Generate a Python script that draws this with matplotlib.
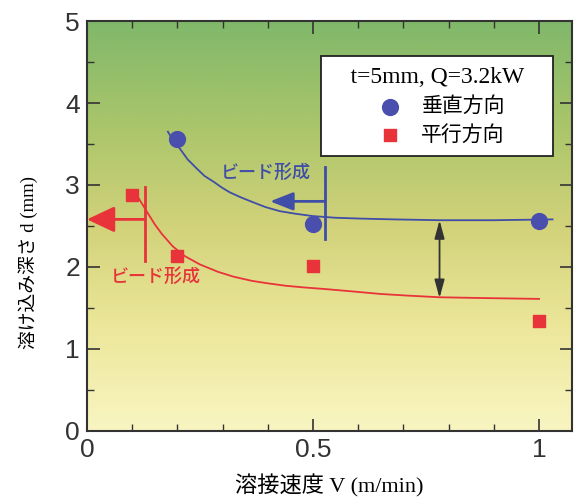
import numpy as np
import matplotlib.pyplot as plt
from matplotlib.colors import LinearSegmentedColormap

plt.rcParams['font.family'] = ['Liberation Sans', 'Noto Sans CJK JP', 'DejaVu Sans']

# measured points
v_perp = [0.2, 0.5, 1.0]
d_perp = [3.56, 2.52, 2.56]
v_para = [0.1, 0.2, 0.5, 1.0]
d_para = [2.88, 2.13, 2.01, 1.34]

# trend curves
curve_perp_v = [0.179, 0.19, 0.206, 0.223, 0.243, 0.26, 0.28, 0.298, 0.316, 0.34,
                0.367, 0.395, 0.427, 0.46, 0.5, 0.55, 0.604, 0.68, 0.78, 0.9, 1.03]
curve_perp_d = [3.65, 3.55, 3.44, 3.31, 3.20, 3.11, 3.04, 2.97, 2.91, 2.85,
                2.79, 2.73, 2.68, 2.65, 2.62, 2.60, 2.59, 2.58, 2.57, 2.57, 2.58]
curve_para_v = [0.113, 0.123, 0.133, 0.15, 0.166, 0.19, 0.217, 0.25, 0.29, 0.325,
                0.365, 0.4, 0.44, 0.48, 0.527, 0.59, 0.65, 0.71, 0.78, 0.88, 1.0]
curve_para_d = [2.85, 2.76, 2.67, 2.52, 2.40, 2.25, 2.13, 2.03, 1.94, 1.88,
                1.83, 1.80, 1.77, 1.75, 1.73, 1.70, 1.67, 1.65, 1.63, 1.62, 1.61]

blue = '#3f4ea6'
red = '#e8333a'

fig = plt.figure(figsize=(5.76, 5.01), dpi=100)
ax = fig.add_axes([0.151, 0.140, 0.842, 0.818])

# green -> yellow background
cmap = LinearSegmentedColormap.from_list('bg', ['#f9f5c2', '#ece79a', '#d2d27a', '#a9c56a', '#80b86a'])
grad = np.linspace(0, 1, 256).reshape(-1, 1)
ax.imshow(grad, cmap=cmap, origin='lower', aspect='auto',
          extent=[0, 1.073, 0, 5], zorder=0)

ax.plot(curve_perp_v, curve_perp_d, color=blue, lw=1.3, zorder=2)
ax.plot(curve_para_v, curve_para_d, color=red, lw=1.3, zorder=2)
ax.scatter(v_perp, d_perp, s=130, color='#4a4fae', zorder=3, label='垂直方向')
ax.scatter(v_para, d_para, s=85, marker='s', color=red, zorder=3, label='平行方向')

# bead formation markers
ax.plot([0.527, 0.527], [2.34, 3.22], color=blue, lw=2, zorder=2)
ax.annotate('', xy=(0.405, 2.80), xytext=(0.527, 2.80),
            arrowprops=dict(arrowstyle='-|>,head_length=1.4,head_width=0.55',
                            color=blue, lw=2, shrinkA=0, shrinkB=0))
ax.text(0.395, 3.15, 'ビード形成', color=blue, fontsize=13, ha='center', va='center',
        family='Noto Sans CJK JP', weight='medium')

ax.plot([0.128, 0.128], [2.07, 2.98], color=red, lw=2, zorder=2)
ax.annotate('', xy=(0.0, 2.58), xytext=(0.128, 2.58),
            arrowprops=dict(arrowstyle='-|>,head_length=1.7,head_width=0.8',
                            color=red, lw=2, shrinkA=0, shrinkB=0),
            annotation_clip=False)
ax.text(0.152, 1.88, 'ビード形成', color=red, fontsize=13, ha='center', va='center',
        family='Noto Sans CJK JP', weight='medium')

# difference arrow
ax.annotate('', xy=(0.78, 2.57), xytext=(0.78, 1.62),
            arrowprops=dict(arrowstyle='<|-|>,head_length=1.1,head_width=0.3',
                            color='#333333', lw=1.3, shrinkA=0, shrinkB=0))

ax.set_xlim(0, 1.073)
ax.set_ylim(0, 5)
ax.set_xticks([0, 0.5, 1])
ax.set_xticklabels(['0', '0.5', '1'])
ax.set_xticks(np.arange(0.1, 1.05, 0.1), minor=True)
ax.set_yticks([0, 1, 2, 3, 4, 5])
ax.set_yticks(np.arange(0.5, 5, 1.0), minor=True)
ax.tick_params(which='both', direction='in', top=True, right=True,
               labelsize=19, colors='#333333', pad=5)
ax.tick_params(which='major', length=9, width=1.2)
ax.tick_params(which='minor', length=5, width=1.0)
for s in ax.spines.values():
    s.set_color('#333333')
    s.set_linewidth(1.5)

ax.set_xlabel('溶接速度 V (m/min)', fontsize=16,
              family=['Liberation Serif', 'Noto Sans CJK JP'])
ax.xaxis.set_label_coords(0.50, -0.105)
ax.set_ylabel('溶け込み深さ d (mm)', fontsize=13.5,
              family=['Liberation Serif', 'Noto Sans CJK JP'])
ax.yaxis.set_label_coords(-0.10, 0.41)

leg = ax.legend(loc='upper right', bbox_to_anchor=(0.982, 0.941),
                title='   t=5mm, Q=3.2kW   ', fancybox=False, framealpha=1,
                edgecolor='#222222', fontsize=15, handletextpad=0.5,
                borderpad=0.55, labelspacing=0.4, markerscale=1.0,
                alignment='center')
leg.get_title().set_fontfamily('Liberation Serif')
leg.get_title().set_fontsize(17)
leg.get_frame().set_linewidth(1.3)

fig.savefig('out.png', dpi=100)
